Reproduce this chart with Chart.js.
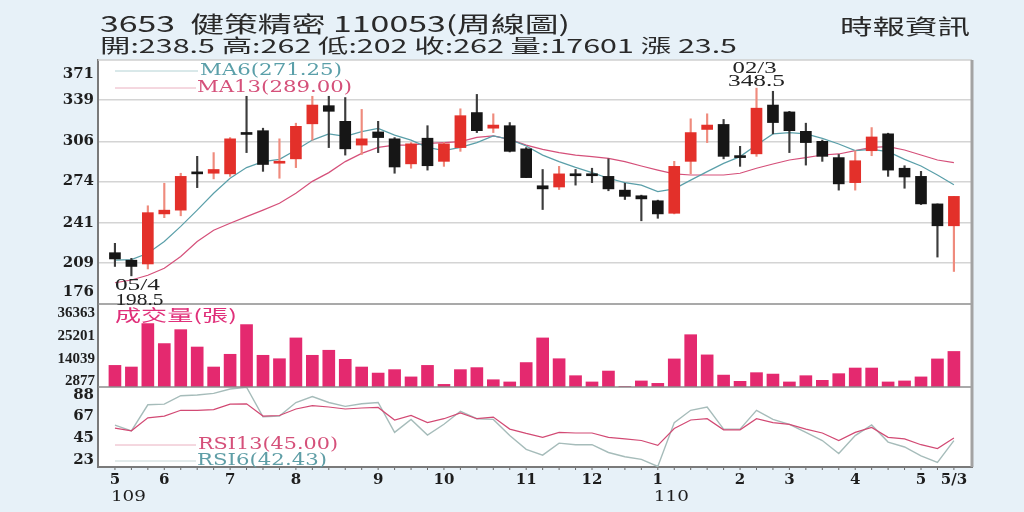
<!DOCTYPE html>
<html>
<head>
<meta charset="utf-8">
<script src="https://cdn.jsdelivr.net/npm/chart.js@4.4.1/dist/chart.umd.min.js"></script>
<style>
html,body{margin:0;padding:0;background:#e7f1f8;}
#wrap{width:1024px;height:512px;position:relative;}
</style>
</head>
<body>
<div id="wrap"><canvas id="kChart" width="1024" height="512"></canvas></div>
<script>
// weekly candles, 3653 健策精密, index 0 = first week on the chart
var opens  = [217,211,208,248,251,281.5,280.5,280,312.5,314.5,288.5,292,320,334.5,322,303,313.5,308,288,308.5,290,301,329,316.5,318.5,300,270.5,269.5,280,279.5,278,267,262.5,258.5,248.5,290,315.5,319.5,294,296,335,329.5,314,306,293,273,298.5,312,284.5,278,256,238.5];
var highs  = [224.5,212.5,254.5,272.5,280.5,294,297,309,342,316.5,308,320.5,342,342,341,331.5,322,309,305,318.5,305,332,343.5,328,321,301,283.5,286,283.5,284.5,292,272.5,263,259,290,324,328,323.5,302,348.5,346,330,320.5,307,295.5,298.5,317,312.5,286.5,282,256,262];
var lows   = [206,198.5,204,245,246.5,269,276,278,297,282,276.5,285,307,301,295,295.5,297,280.5,284.5,283,286,298,313,313,297.5,277,251.5,267.5,271,273,266.5,259.5,242.5,244.5,248,280,305,292,286,294,312,297,287,290,267,267,294.5,278,268.5,255.5,213.5,202];
var closes = [212,206,249,251,278,280,283.5,308,311.5,287.5,289.5,318,335,330,300,308,309,285.5,304,286.5,304,326.5,314.5,319,298,277,268,280,278.5,278.5,268,262,260,248,286,313,319,294,293,332.5,321,314.5,305,294,272,290.5,309.5,283,277.5,256,238.5,262];

var ma6  = [211,211.5,216.5,226,238,251,264.5,276.5,285,289.8,291.6,299,307,312,310,313.7,316.4,311,307,301.2,298.6,301.2,305,310.3,307.6,302.3,295,289.8,285.2,281,276.5,273,271,265.8,268,275,281.8,288.4,293.8,303,311.9,313,311.9,308.4,303.9,298.6,299.6,297.8,291.6,286.3,279.1,271.25];
var ma13 = [193,195.2,199,204.6,214,226,235,240.5,245.8,251,256.5,264.5,274,281,289.8,296.4,301.2,303,303,304.4,305,305.8,309.2,310.3,307.6,303,299.6,297,295,293.8,292.4,289.8,286.3,283,280,279.1,279.1,279.1,280.5,284.5,287.9,291.1,293,295.1,295.9,298.6,301.2,301.8,299.1,295.1,291.1,289];

var volumes = [10700,9900,31400,21500,28400,19800,9900,16200,30900,15700,14000,24300,15700,18200,13700,9900,6900,8600,5000,10700,1300,8600,9600,3600,2500,12100,24300,14000,5600,2500,7900,300,3000,1800,13900,25900,15900,5900,2800,7100,6400,2500,5600,3300,6600,9400,9400,2500,3000,5000,13900,17601];

var rsi6  = [57.8,52.2,78.2,78.9,87.3,88,89.6,94,95.8,66.2,66.9,80.5,86.4,80.5,76.6,79.2,80.5,50.6,63.6,48,58.7,71.7,64.3,63.6,47.4,33.7,27.9,39.9,38.3,38.3,30.5,26.2,23.6,16.5,60.4,72.7,76,53.9,53.9,72.7,63.6,58.7,50.6,42.5,29.5,47.4,58.1,40.9,36,27.2,20.7,42.43];
var rsi13 = [54.8,52.2,65.2,66.9,72.7,72.7,73.4,78.9,79.2,66.9,67.5,74,77.3,76,74,75,75.6,63,67.5,60.4,64.3,70.1,64.3,65.9,53.9,49.6,45.7,50.6,50,50,45.7,44.1,42.5,37.6,54.5,63,64.3,53.2,53.2,64.3,60.4,58.7,53.9,50,42.5,50.6,55.5,45.7,44.1,38.3,34.4,45];

var monthTickPos  = [0,3,7,11,16,20,25,29,33,38,41,45,49,51];
var monthTickText = ['5','6','7','8','9','10','11','12','1','2','3','4','5','5/3'];
var yearTickPos  = [0,33];
var yearTickText = ['109','110'];
var priceTicks = [176,209,241,274,306,339,371];
var volTicks   = [2877,14039,25201,36363];
var rsiTicks   = [23,45,67,88];

var upColor = '#e3302a', downColor = '#161616';
var upWick = '#ef8b7d', downWick = '#3c3c3c';
var maTeal = '#5a9fa9', maPink = '#d5507a';
var isUp = closes.map(function(c, i) { return c >= opens[i]; });

function pts(arr) { return arr.map(function(v, i) { return {x: i, y: v}; }); }

function fitText(ctx, str, x, y, w, align) {
    var m = ctx.measureText(str).width;
    ctx.save();
    ctx.translate(align === 'center' ? x - w / 2 : x, y);
    ctx.scale(w / m, 1);
    ctx.textAlign = 'left';
    ctx.fillText(str, 0, 0);
    ctx.restore();
}

function hline(ctx, x1, x2, y, color, width) {
    ctx.beginPath();
    ctx.strokeStyle = color;
    ctx.lineWidth = width;
    ctx.moveTo(x1, y);
    ctx.lineTo(x2, y);
    ctx.stroke();
}

// keep the edge labels of a panel inside it, like the original
function insetTicks(values, px) {
    return function(scale) {
        var unit = (scale.max - scale.min) / (scale.bottom - scale.top || 1);
        scale.ticks = values.map(function(v) {
            var lo = scale.min + px[0] * unit, hi = scale.max - px[1] * unit;
            return {value: Math.min(Math.max(v, lo), hi)};
        });
    };
}

var axisFont = { family: 'DejaVu Serif', size: 15, weight: 'bold' };

var panelPlugin = {
    id: 'panels',
    beforeDraw: function(chart) {
        var c = chart.ctx, a = chart.chartArea;
        c.save();
        c.fillStyle = '#ffffff';
        c.fillRect(a.left, a.top, a.right - a.left, a.bottom - a.top);
        c.restore();
    },
    afterDraw: function(chart) {
        var c = chart.ctx, a = chart.chartArea, s = chart.scales;
        c.save();
        hline(c, a.left, a.right, a.top, '#cfcfcf', 1.5);
        hline(c, a.left, a.right, s.yVol.top, '#8c8c8c', 1.5);
        hline(c, a.left, a.right, s.yRsi.top, '#8c8c8c', 1.5);
        c.beginPath();
        c.strokeStyle = '#a3a3a3';
        c.lineWidth = 3;
        c.moveTo(a.right, a.top);
        c.lineTo(a.right, a.bottom);
        c.stroke();

        // small week marks under the time axis
        c.strokeStyle = '#666';
        c.lineWidth = 1;
        opens.forEach(function(o, i) {
            var x = s.x.getPixelForValue(i);
            c.beginPath();
            c.moveTo(x, a.bottom + 1);
            c.lineTo(x, a.bottom + 3);
            c.stroke();
        });

        c.textBaseline = 'middle';
        // header
        c.fillStyle = '#2a2a2a';
        c.font = '22px "Noto Sans CJK TC"';
        fitText(c, '3653  健策精密 110053(周線圖)', 100, 24, 470);
        c.font = '19px "Noto Sans CJK TC"';
        fitText(c, '開:238.5 高:262 低:202 收:262 量:17601 漲 23.5', 100, 46, 637);
        c.font = '21px "Noto Sans CJK TC"';
        fitText(c, '時報資訊', 840, 26, 130);

        // legends
        hline(c, 115, 198, 71, '#b3d2d4', 1);
        hline(c, 115, 196, 88, '#eab0c0', 1);
        hline(c, 115, 196, 445, '#eab0c0', 1);
        hline(c, 115, 196, 461, '#c5d6d6', 1);
        c.font = '16px "DejaVu Serif"';
        c.fillStyle = maTeal;
        fitText(c, 'MA6(271.25)', 200, 71, 142);
        c.fillStyle = maPink;
        fitText(c, 'MA13(289.00)', 197, 88, 155);
        fitText(c, 'RSI13(45.00)', 198, 445, 140);
        c.fillStyle = '#5f9ea6';
        fitText(c, 'RSI6(42.43)', 197, 461, 130);
        c.fillStyle = '#e0307a';
        c.font = '16px "Noto Sans CJK TC"';
        fitText(c, '成交量(張)', 115, 315, 122);

        // high / low notes
        c.fillStyle = '#222';
        c.font = '17px "Liberation Serif"';
        var lx = s.x.getPixelForValue(1) + 6, ly = s.yPrice.getPixelForValue(198.5);
        fitText(c, '05/4', lx, ly + 10, 45, 'center');
        fitText(c, '198.5', lx + 2, ly + 25, 48, 'center');
        var hx = s.x.getPixelForValue(39), hy = s.yPrice.getPixelForValue(348.5);
        fitText(c, '02/3', hx - 2, hy - 20, 44, 'center');
        fitText(c, '348.5', hx, hy - 7, 57, 'center');

        // year row under the months
        c.font = '15px "DejaVu Serif"';
        c.fillStyle = '#1e1e1e';
        yearTickPos.forEach(function(p, i) {
            fitText(c, yearTickText[i], s.x.getPixelForValue(p) - 4, 497, 35);
        });
        c.restore();
    }
};

var ctx = document.getElementById('kChart').getContext('2d');
var kChart = new Chart(ctx, {
    type: 'bar',
    data: {
        datasets: [{
            label: 'K',
            data: opens.map(function(o, i) { return {x: i, y: [o, closes[i]]}; }),
            yAxisID: 'yPrice',
            backgroundColor: isUp.map(function(u) { return u ? upColor : downColor; }),
            barThickness: 11,
            minBarLength: 2,
            grouped: false
        }, {
            label: 'wick',
            data: lows.map(function(l, i) { return {x: i, y: [l, highs[i]]}; }),
            yAxisID: 'yPrice',
            backgroundColor: isUp.map(function(u) { return u ? upWick : downWick; }),
            barThickness: 1.5,
            grouped: false
        }, {
            type: 'line',
            label: 'MA6',
            data: pts(ma6),
            yAxisID: 'yPrice',
            borderColor: maTeal,
            borderWidth: 1.2,
            pointRadius: 0
        }, {
            type: 'line',
            label: 'MA13',
            data: pts(ma13),
            yAxisID: 'yPrice',
            borderColor: maPink,
            borderWidth: 1.2,
            pointRadius: 0
        }, {
            label: '成交量',
            data: pts(volumes),
            yAxisID: 'yVol',
            backgroundColor: '#e4296f',
            barThickness: 12,
            grouped: false
        }, {
            type: 'line',
            label: 'RSI13',
            data: pts(rsi13),
            yAxisID: 'yRsi',
            borderColor: '#d24a74',
            borderWidth: 1.2,
            pointRadius: 0
        }, {
            type: 'line',
            label: 'RSI6',
            data: pts(rsi6),
            yAxisID: 'yRsi',
            borderColor: '#a6bcba',
            borderWidth: 1.4,
            pointRadius: 0
        }]
    },
    options: {
        responsive: false,
        animation: false,
        layout: { padding: { left: 0, right: 52, top: 60, bottom: 0 } },
        plugins: { legend: { display: false }, tooltip: { enabled: false } },
        scales: {
            x: {
                type: 'linear',
                offset: false,
                min: -1.03,
                max: 52.1,
                grid: { display: false, drawTicks: false },
                border: { color: '#7a7a7a', width: 2 },
                afterBuildTicks: function(scale) {
                    scale.ticks = monthTickPos.map(function(v) { return {value: v}; });
                },
                afterFit: function(scale) { scale.height = 45; },
                ticks: {
                    autoSkip: false,
                    maxRotation: 0,
                    padding: 4,
                    color: '#1e1e1e',
                    font: axisFont,
                    callback: function(v, i) { return monthTickText[i]; }
                }
            },
            yRsi: {
                type: 'linear',
                position: 'left',
                stack: 'k',
                stackWeight: 80,
                min: 16,
                max: 96,
                beginAtZero: false,
                grid: { display: false, drawTicks: false },
                border: { color: '#7a7a7a', width: 2 },
                afterBuildTicks: function(scale) {
                    scale.ticks = rsiTicks.map(function(v) { return {value: v}; });
                },
                afterFit: function(scale) { scale.width = 98; },
                ticks: {
                    autoSkip: false,
                    padding: 4,
                    color: '#1e1e1e',
                    font: axisFont,
                    callback: function(v, i) { return rsiTicks[i]; }
                }
            },
            yVol: {
                type: 'linear',
                position: 'left',
                stack: 'k',
                stackWeight: 83,
                min: 0,
                max: 41100,
                beginAtZero: false,
                grid: { display: false, drawTicks: false },
                border: { color: '#7a7a7a', width: 2 },
                afterBuildTicks: function(scale) {
                    scale.ticks = volTicks.map(function(v) { return {value: v}; });
                },
                afterFit: function(scale) { scale.width = 98; },
                ticks: {
                    autoSkip: false,
                    padding: 3,
                    color: '#1e1e1e',
                    font: { family: 'Liberation Serif', size: 15, weight: 'bold' },
                    callback: function(v, i) { return volTicks[i]; }
                }
            },
            yPrice: {
                type: 'linear',
                position: 'left',
                stack: 'k',
                stackWeight: 244,
                min: 176,
                max: 371,
                beginAtZero: false,
                grid: {
                    drawTicks: false,
                    lineWidth: 1.5,
                    color: function(c) {
                        return (c.index === 0 || c.index === priceTicks.length - 1) ? 'rgba(0,0,0,0)' : '#d4d4d4';
                    }
                },
                border: { color: '#7a7a7a', width: 2 },
                afterBuildTicks: insetTicks(priceTicks, [6.5, 8]),
                afterFit: function(scale) { scale.width = 98; },
                ticks: {
                    autoSkip: false,
                    padding: 4,
                    color: '#1e1e1e',
                    font: axisFont,
                    callback: function(v, i) { return priceTicks[i]; }
                }
            }
        }
    },
    plugins: [panelPlugin]
});
</script>
</body>
</html>
